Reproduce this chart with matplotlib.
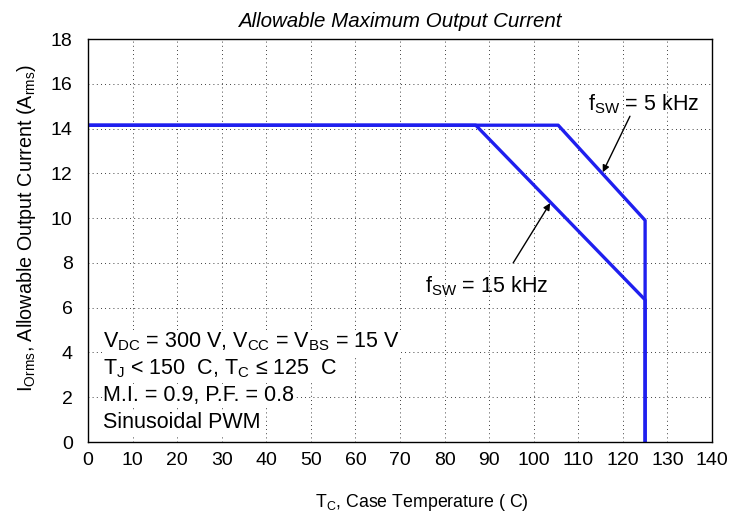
"""Allowable maximum output current vs case temperature."""

import matplotlib as mpl

mpl.use("Agg")
import matplotlib.pyplot as plt

FONT = "Liberation Sans"
plt.rcParams["font.family"] = [FONT, "DejaVu Sans"]
plt.rcParams["mathtext.fontset"] = "custom"
plt.rcParams["mathtext.rm"] = FONT
plt.rcParams["mathtext.it"] = FONT + ":italic"

# curve data
temp_5k = [0, 105.5, 125, 125]
cur_5k = [14.15, 14.15, 9.9, 0]
temp_15k = [0, 87, 125, 125]
cur_15k = [14.15, 14.15, 6.35, 0]

x_ticks = list(range(0, 141, 10))
y_ticks = list(range(0, 19, 2))

conditions = [
    r"V$_{\rm DC}$ = 300 V, V$_{\rm CC}$ = V$_{\rm BS}$ = 15 V",
    r"T$_{\rm J}$ < 150  C, T$_{\rm C}$ ≤ 125  C",
    "M.I. = 0.9, P.F. = 0.8",
    "Sinusoidal PWM",
]

fig = plt.figure(figsize=(7.3, 5.16), dpi=100)
ax = fig.add_axes([0.1205, 0.1434, 0.8548, 0.781])

blue = "#1f1fef"
ax.plot(temp_5k, cur_5k, color=blue, linewidth=2.4)
ax.plot(temp_15k, cur_15k, color=blue, linewidth=2.4)

ax.set_xlim(0, 140)
ax.set_ylim(0, 18)
ax.set_xticks(x_ticks)
ax.set_yticks(y_ticks)
ax.tick_params(axis="x", length=0, labelsize=14, pad=7)
ax.tick_params(axis="y", length=0, labelsize=14, pad=11)
ax.grid(True, color="black", linestyle=(0, (1, 4)), linewidth=0.6)
for s in ax.spines.values():
    s.set_linewidth(1.0)

ax.set_title("Allowable Maximum Output Current", fontstyle="italic",
             fontsize=14.8, pad=9)
ax.set_xlabel(r"T$_{\rm C}$, Case Temperature ( C)", fontsize=12.8)
ax.xaxis.set_label_coords(0.535, -0.125)
ax.set_ylabel(r"I$_{\rm Orms}$, Allowable Output Current (A$_{\rm rms}$)",
              fontsize=14.2)
ax.yaxis.set_label_coords(-0.08, 0.53)

arrow = dict(arrowstyle="-|>", color="black", lw=1.0,
             shrinkA=0, shrinkB=0, mutation_scale=10)
ax.text(112.2, 14.83, r"f$_{\rm SW}$ = 5 kHz", fontsize=15.5,
        ha="left", va="baseline")
ax.annotate("", xy=(115.5, 12.05), xytext=(121.6, 14.55), arrowprops=arrow)
ax.text(75.6, 6.7, r"f$_{\rm SW}$ = 15 kHz", fontsize=15.5,
        ha="left", va="baseline")
ax.annotate("", xy=(103.7, 10.67), xytext=(95.4, 8.0), arrowprops=arrow)

for i, line in enumerate(conditions):
    ax.text(3.4, 4.46 - i * 1.2, line, fontsize=15.5, ha="left", va="center",
            bbox=dict(facecolor="white", edgecolor="none", pad=1.0))

fig.savefig("out.png", dpi=100)
